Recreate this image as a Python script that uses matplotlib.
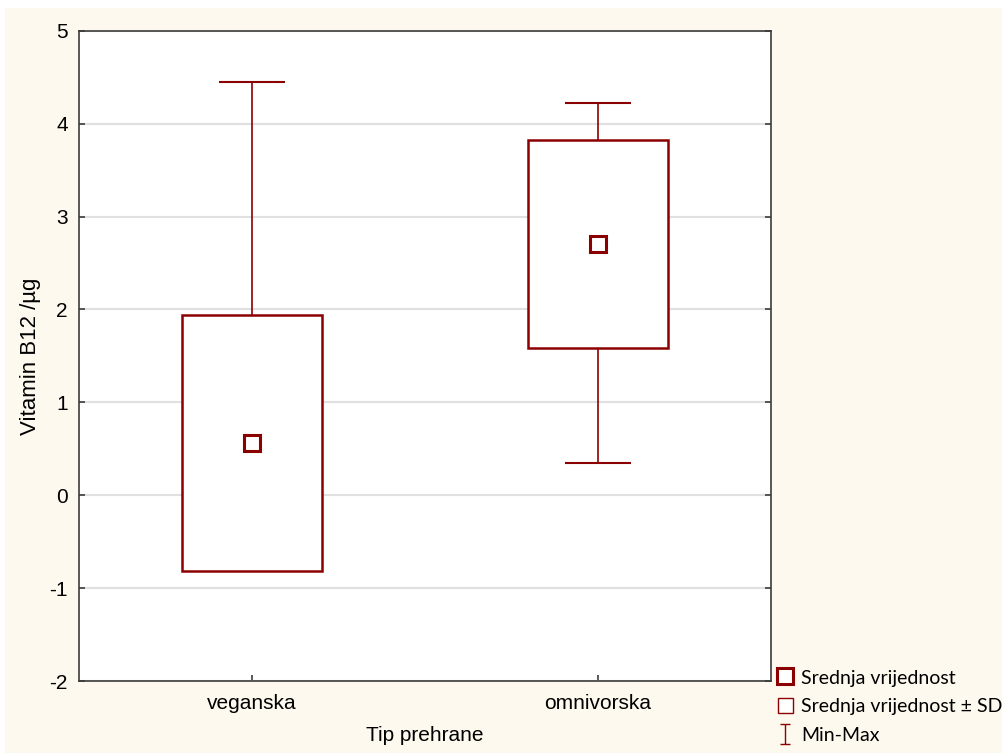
import numpy as np
import matplotlib.pyplot as plt
from matplotlib.lines import Line2D
from matplotlib.patches import Patch, Rectangle
from matplotlib.path import Path

# data
groups = ["veganska", "omnivorska"]
means = [0.563, 2.704]
sds = [1.377, 1.119]
mins = [0.0, 0.345]
maxs = [4.45, 4.22]

RED = "#8B0000"
CREAM = "#FEF9EF"

plt.rcParams["font.family"] = ["Liberation Sans", "DejaVu Sans"]
plt.rcParams["axes.unicode_minus"] = False

fig = plt.figure(figsize=(10.03, 7.53), dpi=100, facecolor="white")
fig.patches.append(Rectangle((0.005, 0), 0.995, 0.989, transform=fig.transFigure,
                             facecolor=CREAM, edgecolor="none", zorder=-10))
ax = fig.add_axes([0.0788, 0.0956, 0.69, 0.8636])
ax.set_facecolor("white")

x = np.arange(1, len(groups) + 1)
means = np.array(means)
sds = np.array(sds)

# min-max whiskers with caps
ax.vlines(x, mins, maxs, color=RED, lw=1.2, zorder=2)
ax.hlines(maxs, x - 0.095, x + 0.095, color=RED, lw=1.5, zorder=2)
ax.hlines(mins, x - 0.095, x + 0.095, color=RED, lw=1.5, zorder=2)

# mean +- SD boxes
ax.bar(x, 2 * sds, bottom=means - sds, width=0.405, facecolor="white",
       edgecolor=RED, linewidth=1.8, zorder=3)

# means
ax.plot(x, means, ls="none", marker="s", ms=11, mfc="white", mec=RED, mew=2.2, zorder=4)

ax.set_xlim(0.5, 2.5)
ax.set_ylim(-2, 5)
ax.set_yticks(range(-2, 6))
ax.set_xticks(x)
ax.set_xticklabels(groups)
ax.yaxis.grid(True, color="#E0E0E0", lw=1.5, zorder=0)
ax.set_axisbelow(True)
ax.tick_params(axis="y", direction="in", length=4, width=1.2, color="#3C3C3C",
               labelsize=15, pad=8, left=True, right=True)
ax.tick_params(axis="x", direction="in", length=4, width=1.2, color="#3C3C3C",
               labelsize=15, pad=9)
for s in ax.spines.values():
    s.set_color("#3C3C3C")
    s.set_linewidth(1.2)

ax.set_xlabel("Tip prehrane", fontsize=15, labelpad=10)
ax.set_ylabel("Vitamin B12 /µg", fontsize=16, labelpad=6)

# legend
ibar = Path([(-0.5, -1), (0.5, -1), (0, -1), (0, 1), (-0.5, 1), (0.5, 1)],
            [Path.MOVETO, Path.LINETO, Path.MOVETO, Path.LINETO, Path.MOVETO, Path.LINETO])
handles = [
    Line2D([], [], ls="none", marker="s", ms=11, mfc="white", mec=RED, mew=2.2),
    Patch(facecolor="white", edgecolor=RED, linewidth=1),
    Line2D([], [], ls="none", marker=ibar, ms=15, mfc="none", mec=RED, mew=1),
]
labels = ["Srednja vrijednost", "Srednja vrijednost ± SD", "Min-Max"]
fig.legend(handles, labels, loc="lower left", bbox_to_anchor=(0.760, -0.009),
           frameon=False, prop={"family": ["Lato", "DejaVu Sans"], "size": 14},
           handlelength=0.78, handleheight=0.85, handletextpad=0.42,
           labelspacing=0.58, borderpad=0.3)

fig.savefig("out.png", dpi=100, facecolor=fig.get_facecolor())
